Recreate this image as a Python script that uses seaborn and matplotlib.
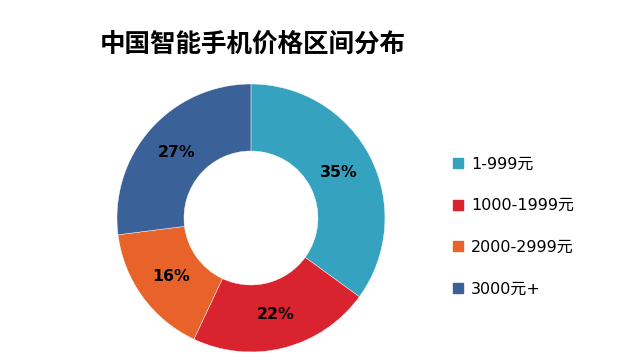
import matplotlib
matplotlib.use("Agg")
import matplotlib.pyplot as plt
import seaborn as sns
from matplotlib.lines import Line2D

sns.set_theme(style="white")
plt.rcParams["font.family"] = ["DejaVu Sans", "Noto Sans CJK SC"]
plt.rcParams["axes.unicode_minus"] = False
plt.rcParams["text.color"] = "black"

# data
categories = ["1-999元", "1000-1999元", "2000-2999元", "3000元+"]
shares = [35, 22, 16, 27]
colors = ["#35A2BF", "#D9232F", "#E8632A", "#3A6299"]
title = "中国智能手机价格区间分布"

palette = sns.color_palette(colors)

fig = plt.figure(figsize=(6.42, 3.64), dpi=100)
ax = fig.add_axes([0.1822, 0.033, 0.4174, 0.7363])

wedges, _, autotexts = ax.pie(
    shares, colors=palette, startangle=90, counterclock=False,
    autopct="%d%%", pctdistance=0.74, radius=1.0,
    wedgeprops=dict(width=0.5, edgecolor="white", linewidth=0.3),
)
for t in autotexts:
    t.set_fontsize(11.3)
    t.set_fontweight("bold")
    t.set_color("black")
ax.set_xlim(-1, 1)
ax.set_ylim(-1, 1)
ax.set_aspect("equal")
ax.axis("off")

fig.text(0.156, 0.88, title, fontsize=18.4, fontweight="bold", color="black",
         ha="left", va="center", family=["Noto Sans CJK SC"])

handles = [Line2D([0], [0], marker="s", linestyle="", markersize=7,
                  markerfacecolor=c, markeredgecolor=c) for c in palette]
leg = fig.legend(handles, categories, loc="upper left", bbox_to_anchor=(0.694, 0.587),
                 frameon=False, fontsize=11.5, labelspacing=1.66, handlelength=0.8,
                 handletextpad=0.4, borderaxespad=0)
for txt in leg.get_texts():
    txt.set_color("black")

plt.savefig("out.png", dpi=100)
plt.close()
